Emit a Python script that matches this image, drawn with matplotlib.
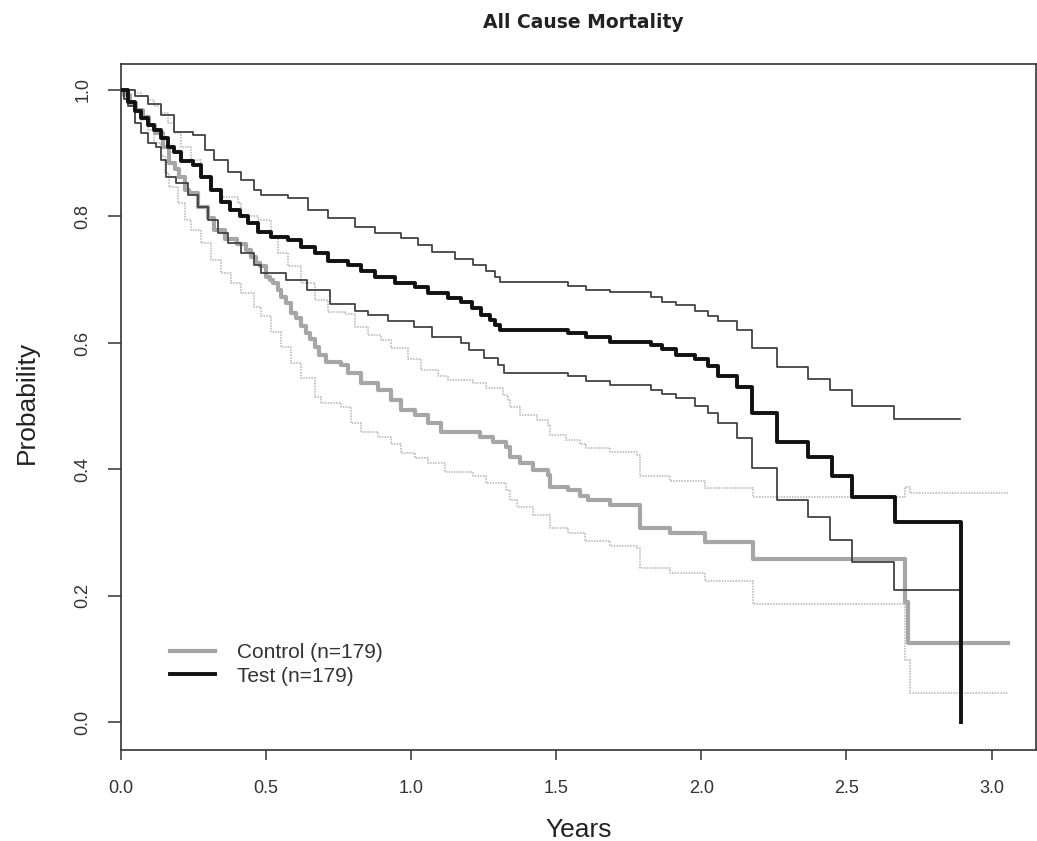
import matplotlib
matplotlib.use("Agg")
import matplotlib.pyplot as plt

# ---------------- data ----------------
title = "All Cause Mortality"
xlabel = "Years"
ylabel = "Probability"
legend_labels = ["Control (n=179)", "Test (n=179)"]
xticks = [0.0, 0.5, 1.0, 1.5, 2.0, 2.5, 3.0]
xticklabels = ["0.0", "0.5", "1.0", "1.5", "2.0", "2.5", "3.0"]
yticks = [0.0, 0.2, 0.4, 0.6, 0.8, 1.0]
yticklabels = ["0.0", "0.2", "0.4", "0.6", "0.8", "1.0"]

# Test: Kaplan-Meier estimate
test_t = [0, 0.023, 0.047, 0.070, 0.092, 0.115, 0.139, 0.162, 0.184, 0.208, 0.248,
          0.276, 0.311, 0.345, 0.374, 0.409, 0.437, 0.472, 0.518, 0.575, 0.621, 0.667,
          0.713, 0.782, 0.828, 0.874, 0.943, 1.012, 1.058, 1.127, 1.173, 1.21, 1.24,
          1.27, 1.29, 1.305, 1.541, 1.604, 1.685, 1.828, 1.863, 1.914, 1.978, 2.024,
          2.058, 2.121, 2.173, 2.26, 2.367, 2.449, 2.52, 2.668, 2.893]
test_s = [1.0, 0.981, 0.966, 0.955, 0.945, 0.937, 0.924, 0.910, 0.902, 0.887, 0.881,
          0.863, 0.842, 0.823, 0.810, 0.800, 0.789, 0.776, 0.768, 0.763, 0.752, 0.742,
          0.729, 0.723, 0.713, 0.705, 0.694, 0.689, 0.679, 0.671, 0.665, 0.655, 0.644,
          0.636, 0.628, 0.621, 0.615, 0.609, 0.602, 0.597, 0.590, 0.581, 0.574, 0.563,
          0.548, 0.531, 0.489, 0.444, 0.419, 0.389, 0.357, 0.317, 0.0]

# Test: upper confidence limit
test_hi_t = [0, 0.047, 0.092, 0.139, 0.184, 0.247, 0.288, 0.322, 0.367, 0.414, 0.460,
             0.483, 0.574, 0.643, 0.712, 0.805, 0.874, 0.966, 1.023, 1.070, 1.150, 1.212,
             1.259, 1.290, 1.305, 1.541, 1.604, 1.685, 1.828, 1.863, 1.914, 1.978, 2.024,
             2.058, 2.121, 2.173, 2.259, 2.368, 2.443, 2.518, 2.665, 2.891]
test_hi_s = [1.0, 0.990, 0.978, 0.960, 0.934, 0.929, 0.905, 0.889, 0.871, 0.858, 0.842,
             0.834, 0.829, 0.810, 0.798, 0.784, 0.774, 0.766, 0.755, 0.744, 0.733, 0.723,
             0.713, 0.705, 0.696, 0.690, 0.684, 0.680, 0.673, 0.665, 0.660, 0.651, 0.642,
             0.634, 0.621, 0.592, 0.562, 0.543, 0.525, 0.501, 0.479, 0.479]

# Test: lower confidence limit
test_lo_t = [0, 0.010, 0.023, 0.047, 0.070, 0.092, 0.121, 0.139, 0.156, 0.190, 0.230,
             0.265, 0.299, 0.333, 0.367, 0.414, 0.460, 0.483, 0.567, 0.640, 0.720, 0.805,
             0.850, 0.920, 1.010, 1.070, 1.170, 1.200, 1.250, 1.300, 1.320, 1.541, 1.604,
             1.685, 1.828, 1.863, 1.914, 1.978, 2.024, 2.058, 2.121, 2.173, 2.259, 2.368,
             2.443, 2.518, 2.665, 2.891]
test_lo_s = [1.0, 0.985, 0.974, 0.948, 0.932, 0.916, 0.910, 0.889, 0.863, 0.853, 0.834,
             0.815, 0.794, 0.774, 0.758, 0.742, 0.723, 0.710, 0.700, 0.684, 0.662, 0.650,
             0.644, 0.634, 0.626, 0.610, 0.600, 0.589, 0.576, 0.565, 0.552, 0.547, 0.540,
             0.534, 0.526, 0.519, 0.513, 0.500, 0.489, 0.474, 0.449, 0.402, 0.352, 0.325,
             0.289, 0.254, 0.209, 0.209]

# Control: Kaplan-Meier estimate
ctrl_t = [0, 0.012, 0.030, 0.050, 0.075, 0.095, 0.116, 0.144, 0.167, 0.185, 0.200,
          0.219, 0.236, 0.265, 0.299, 0.322, 0.360, 0.400, 0.432, 0.449, 0.466, 0.478,
          0.501, 0.512, 0.523, 0.541, 0.552, 0.570, 0.587, 0.604, 0.621, 0.639, 0.650,
          0.667, 0.684, 0.708, 0.759, 0.782, 0.828, 0.886, 0.932, 0.966, 1.012,
          1.058, 1.104, 1.236, 1.282, 1.328, 1.340, 1.374, 1.420, 1.470, 1.478, 1.540,
          1.581, 1.610, 1.686, 1.788, 1.891, 2.012, 2.179, 2.702, 2.713, 3.058]
ctrl_s = [1.0, 0.992, 0.980, 0.968, 0.958, 0.945, 0.932, 0.910, 0.884, 0.875, 0.863,
          0.842, 0.837, 0.815, 0.797, 0.779, 0.765, 0.756, 0.747, 0.736, 0.726, 0.721,
          0.705, 0.700, 0.694, 0.684, 0.673, 0.663, 0.647, 0.640, 0.627, 0.615, 0.607,
          0.594, 0.581, 0.570, 0.565, 0.552, 0.536, 0.526, 0.510, 0.494, 0.486,
          0.473, 0.460, 0.452, 0.444, 0.436, 0.419, 0.410, 0.399, 0.391, 0.373, 0.368,
          0.358, 0.352, 0.344, 0.307, 0.299, 0.286, 0.258, 0.191, 0.126, 0.126]

# Control: upper confidence limit
ctrl_hi_t = [0, 0.047, 0.070, 0.092, 0.115, 0.139, 0.161, 0.184, 0.208, 0.242, 0.276,
             0.311, 0.345, 0.403, 0.414, 0.472, 0.518, 0.541, 0.575, 0.621, 0.667, 0.713,
             0.771, 0.805, 0.851, 0.897, 0.932, 0.989, 1.035, 1.092, 1.127, 1.213, 1.259,
             1.317, 1.334, 1.340, 1.374, 1.432, 1.472, 1.478, 1.535, 1.581, 1.604, 1.684,
             1.777, 1.788, 1.891, 2.012, 2.179, 2.702, 2.720, 3.058]
ctrl_hi_s = [1.0, 0.995, 0.990, 0.984, 0.975, 0.963, 0.947, 0.932, 0.910, 0.889, 0.863,
             0.842, 0.831, 0.821, 0.800, 0.794, 0.768, 0.742, 0.721, 0.694, 0.668, 0.649,
             0.645, 0.625, 0.612, 0.605, 0.592, 0.575, 0.558, 0.547, 0.542, 0.536, 0.528,
             0.518, 0.510, 0.499, 0.486, 0.478, 0.470, 0.455, 0.447, 0.441, 0.434, 0.428,
             0.423, 0.389, 0.381, 0.370, 0.357, 0.372, 0.363, 0.363]

# Control: lower confidence limit
ctrl_lo_t = [0, 0.012, 0.030, 0.047, 0.070, 0.092, 0.115, 0.139, 0.150, 0.167, 0.196,
             0.219, 0.242, 0.276, 0.311, 0.345, 0.380, 0.414, 0.460, 0.483, 0.518, 0.552,
             0.587, 0.621, 0.667, 0.690, 0.759, 0.794, 0.828, 0.886, 0.932, 0.966, 1.012,
             1.058, 1.116, 1.213, 1.259, 1.328, 1.340, 1.363, 1.420, 1.478, 1.540, 1.600,
             1.684, 1.777, 1.788, 1.891, 2.012, 2.179, 2.702, 2.720, 3.058]
ctrl_lo_s = [1.0, 0.985, 0.975, 0.968, 0.953, 0.937, 0.916, 0.895, 0.868, 0.847, 0.821,
             0.794, 0.779, 0.758, 0.731, 0.710, 0.694, 0.679, 0.657, 0.642, 0.618, 0.594,
             0.568, 0.545, 0.515, 0.505, 0.499, 0.473, 0.460, 0.452, 0.441, 0.426, 0.418,
             0.410, 0.396, 0.389, 0.378, 0.368, 0.352, 0.341, 0.328, 0.308, 0.300, 0.287,
             0.279, 0.276, 0.244, 0.236, 0.223, 0.187, 0.099, 0.046, 0.046]

# ---------------- figure ----------------
W, H = 1037, 841
fig = plt.figure(figsize=(W / 100, H / 100), dpi=100)
ax = fig.add_axes([121 / W, 1 - 750 / H, (1036 - 121) / W, (750 - 64) / H])

font = "Liberation Sans"
ci_ctrl_color = "#b4b4b4"
ci_test_color = "#3c3c3c"

ax.step(ctrl_lo_t, ctrl_lo_s, where="post", color=ci_ctrl_color, lw=1.1,
        linestyle=(0, (1, 0.8)), zorder=2)
ax.step(ctrl_hi_t, ctrl_hi_s, where="post", color=ci_ctrl_color, lw=1.1,
        linestyle=(0, (1, 0.8)), zorder=2)
ctrl_line, = ax.step(ctrl_t, ctrl_s, where="post", color="#a6a6a6", lw=3.0,
                     zorder=3, label=legend_labels[0])
ax.step(test_lo_t, test_lo_s, where="post", color=ci_test_color, lw=1.25, zorder=4)
ax.step(test_hi_t, test_hi_s, where="post", color=ci_test_color, lw=1.25, zorder=4)
test_line, = ax.step(test_t, test_s, where="post", color="#111111", lw=2.8,
                     zorder=5, label=legend_labels[1])

ax.set_xlim(0, 3.153)
ax.set_ylim(-0.0435, 1.041)

ax.set_xticks(xticks)
ax.set_xticklabels(xticklabels, fontfamily=font, fontsize=13, color="#333333")
ax.set_yticks(yticks)
ax.set_yticklabels(yticklabels, fontfamily=font, fontsize=13, color="#333333",
                   rotation=90, va="center")
ax.tick_params(axis="x", direction="out", length=7.5, width=1.1, color="#333333",
               pad=14)
ax.tick_params(axis="y", direction="out", length=9.5, width=1.1, color="#333333",
               pad=12)
for sp in ax.spines.values():
    sp.set_color("#333333")
    sp.set_linewidth(1.2)

ax.set_xlabel(xlabel, fontfamily=font, fontsize=19, color="#222222", va="center")
ax.xaxis.set_label_coords(0.5, (750 - 830) / 686)
ax.set_ylabel(ylabel, fontfamily=font, fontsize=19, color="#222222", va="center")
ax.yaxis.set_label_coords((27 - 121) / 915, (750 - 402) / 686)

fig.text(583 / W, 1 - 22 / H, title, fontfamily="DejaVu Sans", fontweight="bold",
         fontsize=13.5, color="#222222", ha="center", va="center")

leg = ax.legend(handles=[ctrl_line, test_line], loc="upper left",
                bbox_to_anchor=((170 - 121) / 915, (750 - 643) / 686),
                frameon=False, prop={"family": font, "size": 15},
                handlelength=2.16, handletextpad=1.06, labelspacing=0.22,
                borderpad=0, borderaxespad=0)
for t in leg.get_texts():
    t.set_color("#333333")

fig.savefig("out.png", dpi=100)
